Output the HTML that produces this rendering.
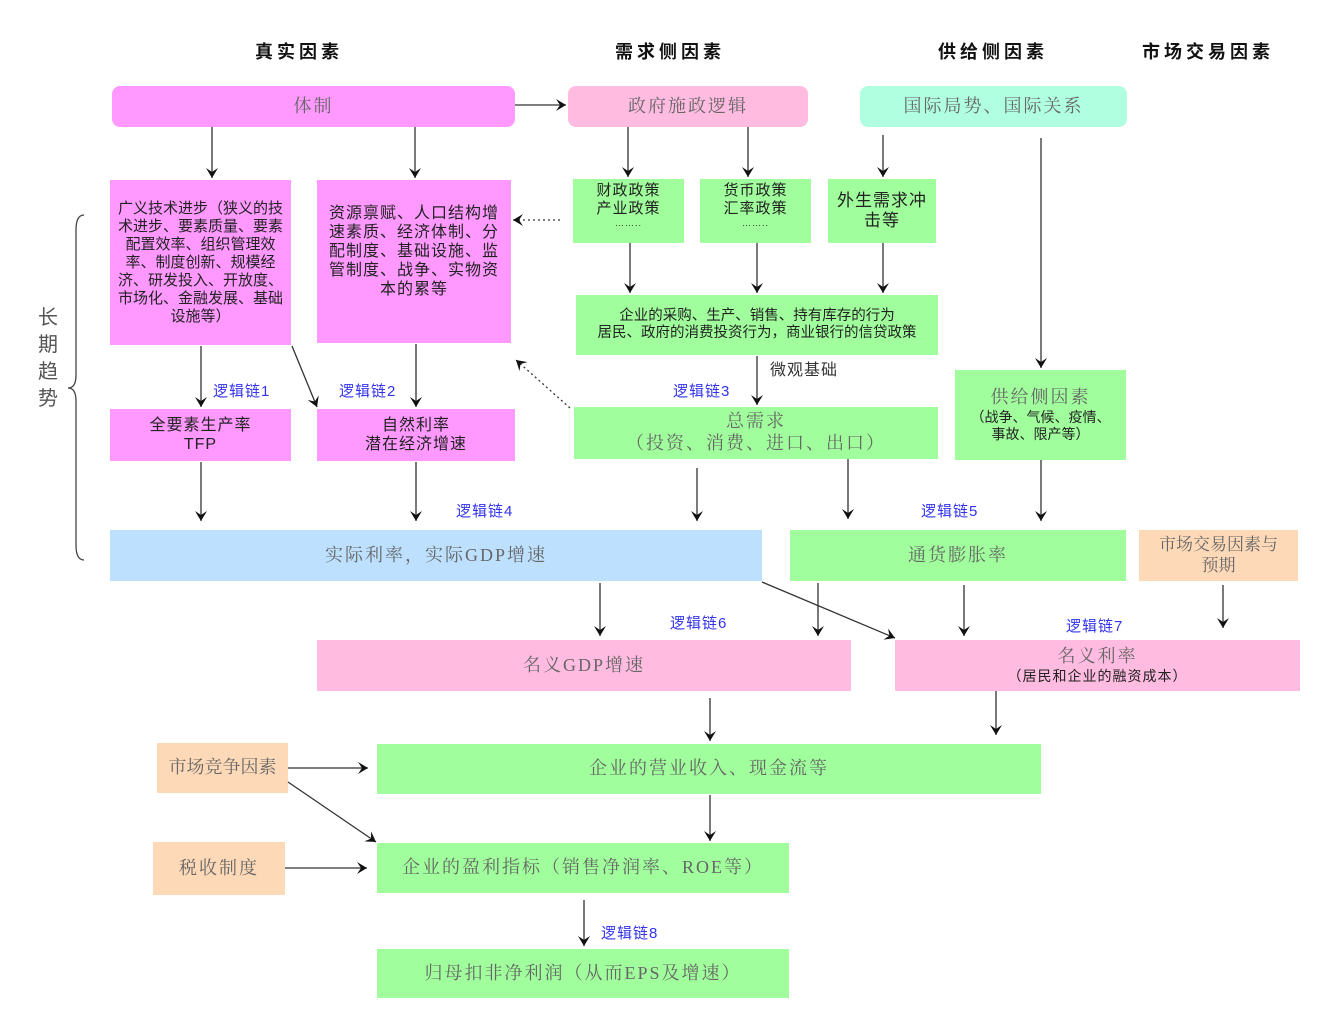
<!DOCTYPE html>
<html><head><meta charset="utf-8"><style>
body{margin:0;width:1330px;height:1036px;background:#fff;position:relative;overflow:hidden;font-family:"Liberation Serif","Noto Serif CJK SC","Noto Sans CJK SC",serif;}
.b{position:absolute;display:flex;align-items:center;justify-content:center;text-align:center;box-sizing:border-box;color:#666;font-size:18px;line-height:1.2;letter-spacing:2px}
.s{font-family:"Liberation Sans","Noto Sans CJK SC",sans-serif;color:#222;letter-spacing:1px}
.h{position:absolute;font-family:"Liberation Sans","Noto Sans CJK SC",sans-serif;font-weight:bold;font-size:18px;color:#111;letter-spacing:4px}
.l{position:absolute;font-family:"Liberation Sans","Noto Sans CJK SC",sans-serif;color:#3333ee;font-size:15px;letter-spacing:1px}
.pk{background:#ff99ff}.gr{background:#a0ff9c}.bl{background:#bde0ff}.lp{background:#ffbbe0}.pe{background:#fdd9b8}.mt{background:#b0ffe0}
</style></head><body>
<div class="h" style="left:255px;top:38px">真实因素</div>
<div class="h" style="left:615px;top:38px">需求侧因素</div>
<div class="h" style="left:938px;top:38px">供给侧因素</div>
<div class="h" style="left:1142px;top:38px">市场交易因素</div>

<div class="b pk" style="left:112px;top:86px;width:403px;height:41px;border-radius:8px">体制</div>
<div class="b lp" style="left:568px;top:86px;width:240px;height:41px;border-radius:8px">政府施政逻辑</div>
<div class="b mt" style="left:860px;top:86px;width:267px;height:41px;border-radius:8px">国际局势、国际关系</div>

<div class="b pk s" style="left:110px;top:180px;width:181px;height:165px;font-size:15px;padding:0 2px;letter-spacing:0">广义技术进步（狭义的技术进步、要素质量、要素配置效率、组织管理效率、制度创新、规模经济、研发投入、开放度、市场化、金融发展、基础设施等）</div>
<div class="b pk s" style="left:317px;top:180px;width:194px;height:163px;font-size:16px;padding:0 8px 20px">资源禀赋、人口结构增速素质、经济体制、分配制度、基础设施、监管制度、战争、实物资本的累等</div>
<div class="b gr s" style="left:573px;top:179px;width:111px;height:64px;font-size:15px;flex-direction:column;justify-content:flex-start;padding-top:3px">财政政策<br>产业政策<span style="font-size:9px">……..</span></div>
<div class="b gr s" style="left:700px;top:179px;width:111px;height:64px;font-size:15px;flex-direction:column;justify-content:flex-start;padding-top:3px">货币政策<br>汇率政策<span style="font-size:9px">……..</span></div>
<div class="b gr s" style="left:828px;top:179px;width:108px;height:64px;font-size:17px;padding:0 4px">外生需求冲击等</div>
<div class="b gr s" style="left:576px;top:295px;width:362px;height:60px;font-size:14.5px;letter-spacing:0">企业的采购、生产、销售、持有库存的行为<br>居民、政府的消费投资行为，商业银行的信贷政策</div>
<div class="s" style="position:absolute;left:770px;top:356px;font-size:16px;color:#333">微观基础</div>
<div class="b pk s" style="left:110px;top:409px;width:181px;height:52px;font-size:16px">全要素生产率<br>TFP</div>
<div class="b pk s" style="left:317px;top:409px;width:198px;height:52px;font-size:16px">自然利率<br>潜在经济增速</div>
<div class="b gr" style="left:574px;top:407px;width:364px;height:52px">总需求<br>（投资、消费、进口、出口）</div>
<div class="b gr" style="left:955px;top:370px;width:171px;height:90px;flex-direction:column">供给侧因素<span class="s" style="font-size:14px;letter-spacing:0">（战争、气候、疫情、<br>事故、限产等）</span></div>
<div class="b bl" style="left:110px;top:530px;width:652px;height:51px">实际利率，实际GDP增速</div>
<div class="b gr" style="left:790px;top:530px;width:336px;height:51px">通货膨胀率</div>
<div class="b pe" style="left:1139px;top:530px;width:159px;height:51px;font-size:17px;letter-spacing:0;padding:0 4px">市场交易因素与<br>预期</div>
<div class="b lp" style="left:317px;top:640px;width:534px;height:51px">名义GDP增速</div>
<div class="b lp" style="left:895px;top:640px;width:405px;height:51px;flex-direction:column">名义利率<span class="s" style="font-size:14px">（居民和企业的融资成本）</span></div>
<div class="b pe" style="left:157px;top:743px;width:131px;height:50px;letter-spacing:0">市场竞争因素</div>
<div class="b gr" style="left:377px;top:744px;width:664px;height:50px">企业的营业收入、现金流等</div>
<div class="b pe" style="left:153px;top:842px;width:132px;height:53px">税收制度</div>
<div class="b gr" style="left:377px;top:843px;width:412px;height:50px">企业的盈利指标（销售净润率、ROE等）</div>
<div class="b gr" style="left:377px;top:949px;width:412px;height:49px">归母扣非净利润（从而EPS及增速）</div>

<div class="l" style="left:213px;top:380px">逻辑链1</div>
<div class="l" style="left:339px;top:380px">逻辑链2</div>
<div class="l" style="left:673px;top:380px">逻辑链3</div>
<div class="l" style="left:456px;top:500px">逻辑链4</div>
<div class="l" style="left:921px;top:500px">逻辑链5</div>
<div class="l" style="left:670px;top:612px">逻辑链6</div>
<div class="l" style="left:1066px;top:615px">逻辑链7</div>
<div class="l" style="left:601px;top:922px">逻辑链8</div>
<div class="s" style="position:absolute;left:38px;top:305px;width:24px;font-size:20px;line-height:27px;color:#555">长期趋势</div>

<svg width="1330" height="1036" style="position:absolute;left:0;top:0">
<defs><marker id="a" markerWidth="12" markerHeight="12" refX="10" refY="6" orient="auto" markerUnits="userSpaceOnUse"><path d="M0,0 L10,6 L0,12 L4,6 Z" fill="#111"/></marker></defs>
<g stroke="#333" stroke-width="1.3" fill="none" marker-end="url(#a)">
<line x1="515" y1="105" x2="566" y2="105"/>
<line x1="212" y1="127" x2="212" y2="178"/>
<line x1="415" y1="127" x2="415" y2="178"/>
<line x1="628" y1="127" x2="628" y2="177"/>
<line x1="748" y1="127" x2="748" y2="177"/>
<line x1="883" y1="135" x2="883" y2="177"/>
<line x1="1041" y1="138" x2="1041" y2="368"/>
<line x1="630" y1="243" x2="630" y2="293"/>
<line x1="757" y1="243" x2="757" y2="293"/>
<line x1="883" y1="243" x2="883" y2="293"/>
<line x1="560" y1="220" x2="513" y2="220" stroke-dasharray="2,3"/>
<line x1="201" y1="346" x2="201" y2="407"/>
<line x1="292" y1="346" x2="317" y2="407"/>
<line x1="416" y1="344" x2="416" y2="407"/>
<line x1="757" y1="356" x2="757" y2="405"/>
<line x1="570" y1="408" x2="516" y2="360" stroke-dasharray="2,3"/>
<line x1="201" y1="462" x2="201" y2="521"/>
<line x1="416" y1="462" x2="416" y2="521"/>
<line x1="697" y1="468" x2="697" y2="521"/>
<line x1="848" y1="459" x2="848" y2="519"/>
<line x1="1041" y1="460" x2="1041" y2="521"/>
<line x1="600" y1="583" x2="600" y2="636"/>
<line x1="818" y1="583" x2="818" y2="636"/>
<line x1="762" y1="582" x2="895" y2="638"/>
<line x1="964" y1="585" x2="964" y2="636"/>
<line x1="1223" y1="585" x2="1223" y2="628"/>
<line x1="710" y1="698" x2="710" y2="741"/>
<line x1="996" y1="691" x2="996" y2="735"/>
<line x1="288" y1="768" x2="368" y2="768"/>
<line x1="288" y1="782" x2="376" y2="842"/>
<line x1="285" y1="868" x2="367" y2="868"/>
<line x1="710" y1="795" x2="710" y2="841"/>
<line x1="584" y1="900" x2="584" y2="946"/>
</g>
<path d="M84,215 Q76,215 76,230 L76,375 Q76,388 68,388 Q76,388 76,401 L76,545 Q76,560 84,560" stroke="#444" stroke-width="1.3" fill="none"/>
</svg>
</body></html>
